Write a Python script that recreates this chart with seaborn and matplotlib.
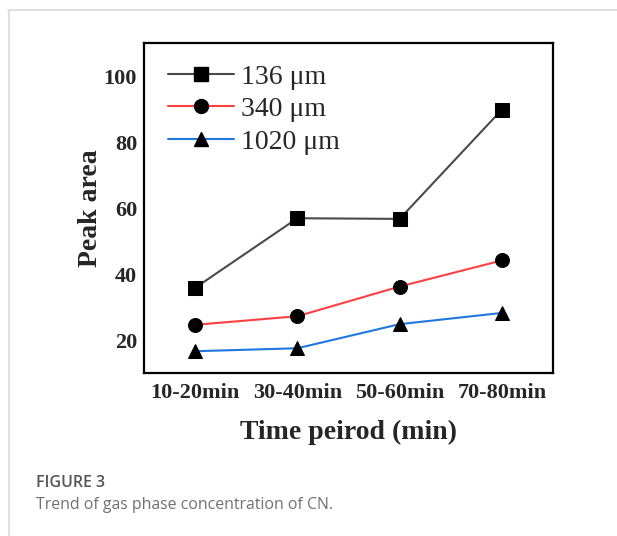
import matplotlib
matplotlib.use("Agg")
import matplotlib.pyplot as plt
import matplotlib.lines as mlines
import seaborn as sns
import pandas as pd
from matplotlib.ticker import FixedLocator

# data
periods = ["10-20min", "30-40min", "50-60min", "70-80min"]
peak_136 = [35.8, 56.9, 56.7, 89.8]
peak_340 = [24.6, 27.2, 36.2, 44.1]
peak_1020 = [16.6, 17.5, 24.8, 28.2]
sizes = ["136 μm", "340 μm", "1020 μm"]

df = pd.DataFrame({
    "period": periods * 3,
    "x": list(range(len(periods))) * 3,
    "area": peak_136 + peak_340 + peak_1020,
    "size": [s for s in sizes for _ in periods],
})

sns.set_style("white")
plt.rcParams["font.family"] = ["Liberation Serif", "DejaVu Serif"]

palette = {"136 μm": "#4a4a4a", "340 μm": "#ff4040", "1020 μm": "#1f78e0"}
markers = {"136 μm": "s", "340 μm": "o", "1020 μm": "^"}

fig = plt.figure(figsize=(6.17, 5.36), dpi=100)
W, H = 617, 536
ax = fig.add_axes([144 / W, 1 - 373 / H, 409 / W, 330 / H])

sns.lineplot(data=df, x="x", y="area", hue="size", style="size",
             palette=palette, markers=markers, dashes=False,
             markersize=10, markeredgecolor="black", linewidth=1.5,
             legend=False, ax=ax)
for line in ax.get_lines():
    line.set_markerfacecolor("black")

ax.set_xlim(-0.5, 3.5)
ax.set_ylim(10, 110)
ax.set_xticks(range(len(periods)))
ax.set_xticklabels(periods)
ax.xaxis.set_minor_locator(FixedLocator([0.5, 1.5, 2.5]))
ax.yaxis.set_major_locator(FixedLocator([20, 40, 60, 80, 100]))
ax.yaxis.set_minor_locator(FixedLocator([30, 50, 70, 90]))
ax.tick_params(which="both", direction="in", width=1.5)
ax.tick_params(which="major", length=5)
ax.tick_params(which="minor", length=3)
ax.tick_params(axis="x", which="major", pad=7.5)
ax.tick_params(axis="y", which="major", pad=5)
ax.tick_params(axis="both", which="major", labelsize=16)
for lbl in ax.get_xticklabels() + ax.get_yticklabels():
    lbl.set_fontweight("bold")
for sp in ax.spines.values():
    sp.set_linewidth(1.6)
    sp.set_color("black")

ax.set_xlabel("Time peirod (min)", fontsize=20, fontweight="bold", labelpad=11.5)
ax.set_ylabel("Peak area", fontsize=20, fontweight="bold", labelpad=0.5)

handles = [mlines.Line2D([], [], color=palette[s], marker=markers[s], markersize=10,
                         markerfacecolor="black", markeredgecolor="black", linewidth=1.5)
           for s in sizes]
ax.legend(handles, sizes, loc="upper left", frameon=False, fontsize=20,
          handlelength=2.35, handletextpad=0.25, labelspacing=0.26,
          borderaxespad=0.3, bbox_to_anchor=(0.012, 0.995))

# page frame and caption
fig.add_artist(mlines.Line2D([8 / W, 1], [1 - 10 / H, 1 - 10 / H], color="#d9d9d9", linewidth=1.2))
fig.add_artist(mlines.Line2D([9 / W, 9 / W], [0, 1 - 10 / H], color="#d9d9d9", linewidth=1.2))
fig.text(36 / W, 1 - 483 / H, "FIGURE 3", fontsize=11.5, color="#555555", fontweight="semibold",
         family=["Open Sans", "DejaVu Sans"], va="center")
fig.text(36 / W, 1 - 505 / H, "Trend of gas phase concentration of CN.", fontsize=11.4,
         color="#707070", family=["Open Sans", "DejaVu Sans"], va="center")

fig.savefig("out.png", dpi=100)
